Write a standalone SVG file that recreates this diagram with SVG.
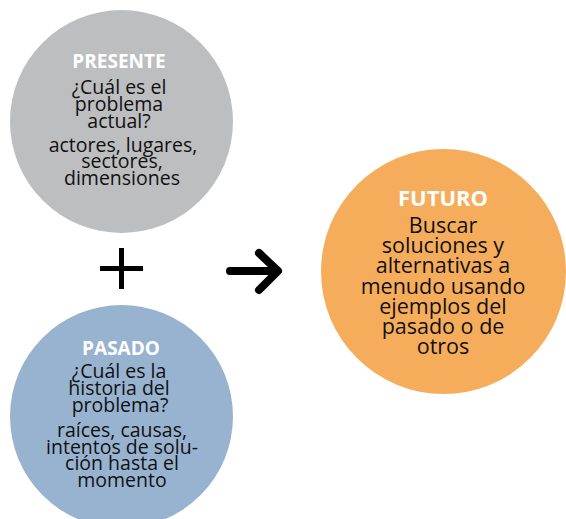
<svg xmlns="http://www.w3.org/2000/svg" width="566" height="519" viewBox="0 0 566 519">
<style>
.t{font-family:"Open Sans","Liberation Sans",sans-serif;text-anchor:middle;fill:#111}
.h{font-weight:bold;fill:#fff}
.b{font-size:19.5px}
.bf{font-size:21.5px}
.sym{stroke:#000;fill:none}
</style>
<rect width="566" height="519" fill="#fff"/>
<g id="presente">
<circle cx="121.5" cy="121.5" r="111.5" fill="#bcbec0"/>
<text class="t h" x="119" y="68" font-size="19">PRESENTE</text>
<text class="t b" x="119"><tspan x="119" y="94">¿Cuál es el</tspan><tspan x="119" y="111">problema</tspan><tspan x="119" y="128">actual?</tspan><tspan x="123" y="152">actores, lugares,</tspan><tspan x="122" y="168">sectores,</tspan><tspan x="122" y="185">dimensiones</tspan></text>
</g>
<g id="pasado">
<circle cx="121.5" cy="416.5" r="111.5" fill="#98b3d0"/>
<text class="t h" x="121" y="355" font-size="19">PASADO</text>
<text class="t b"><tspan x="119" y="378">¿Cuál es la</tspan><tspan x="119" y="395">historia del</tspan><tspan x="120" y="412">problema?</tspan><tspan x="122" y="437">raíces, causas,</tspan><tspan x="122" y="454">intentos de solu-</tspan><tspan x="122" y="470">ción hasta el</tspan><tspan x="122" y="487">momento</tspan></text>
</g>
<g id="futuro">
<circle cx="443.5" cy="271.5" r="122.5" fill="#f6ad5b"/>
<text class="t h" x="443" y="206" font-size="22">FUTURO</text>
<text class="t bf"><tspan x="443" y="233">Buscar</tspan><tspan x="443" y="253">soluciones y</tspan><tspan x="443" y="273">alternativas a</tspan><tspan x="443" y="294">menudo usando</tspan><tspan x="443" y="314">ejemplos del</tspan><tspan x="443" y="334">pasado o de</tspan><tspan x="443" y="354">otros</tspan></text>
</g>
<g id="connectors">
<path class="sym" d="M100 268.5H143M121.5 248V289" stroke-width="5"/>
<path class="sym" d="M230 271H277M259 253L278 271L259 290" stroke-width="8" stroke-linecap="round" stroke-linejoin="round"/>
</g>
</svg>
